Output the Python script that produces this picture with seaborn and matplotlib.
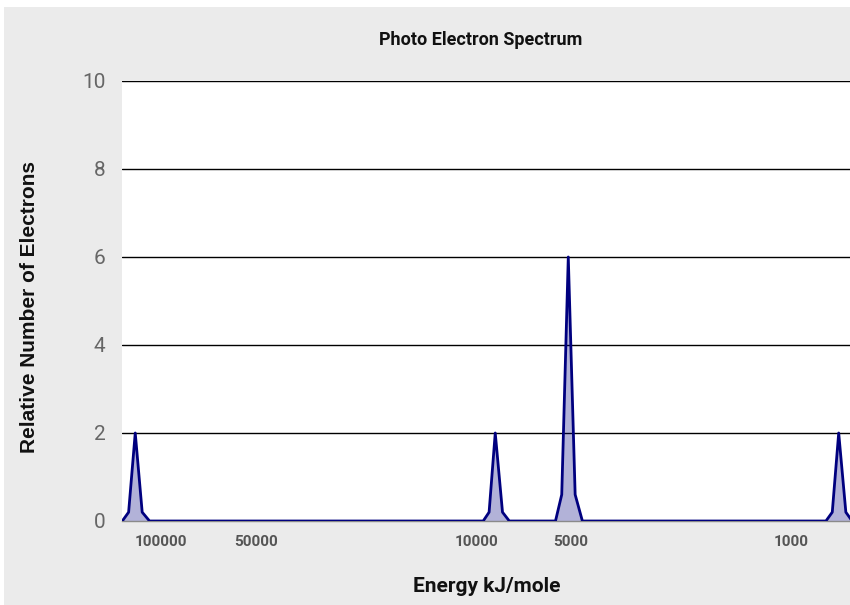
import matplotlib
matplotlib.use("Agg")
import matplotlib.pyplot as plt
import matplotlib.ticker as mticker
from matplotlib.patches import Rectangle
import seaborn as sns
import pandas as pd

# Data
energy = [133000, 127000, 121000, 115000, 109000,
          9500, 9100, 8700, 8250, 7850,
          5600, 5350, 5100, 4850, 4600,
          775, 740, 706, 670, 640]
electrons = [0, 0.2, 2, 0.2, 0,
             0, 0.2, 2, 0.2, 0,
             0, 0.6, 6, 0.6, 0,
             0, 0.2, 2, 0.2, 0]
x_ticks = [100000, 50000, 10000, 5000, 1000]
x_tick_labels = ["100000", "50000", "10000", "5000", "1000"]
y_ticks = [0, 2, 4, 6, 8, 10]

title = "Photo Electron Spectrum"
x_label = "Energy kJ/mole"
y_label = "Relative Number of Electrons"

df = pd.DataFrame({"energy": energy, "electrons": electrons})

sns.set_theme(style="white")
plt.rcParams["font.family"] = ["Roboto", "DejaVu Sans"]

fig = plt.figure(figsize=(8.5, 6.05), dpi=100)
fig.patch.set_facecolor("white")
fig.patches.append(Rectangle((4 / 850, 0), 1, 1 - 7 / 605, transform=fig.transFigure,
                             facecolor="#ebebeb", edgecolor="none", zorder=-10))

ax = fig.add_axes([122 / 850, 84 / 605, 728 / 850, 440 / 605])
ax.set_facecolor("white")

line_color = "#00007f"
ax.fill_between(df["energy"], df["electrons"], 0, color=line_color, alpha=0.3,
                linewidth=0, zorder=2)
sns.lineplot(data=df, x="energy", y="electrons", ax=ax, color=line_color,
             linewidth=2.0, zorder=3, sort=False)

ax.set_xscale("log")
ax.set_xlim(133300, 650)
ax.set_ylim(0, 10)

ax.xaxis.set_major_locator(mticker.FixedLocator(x_ticks))
ax.xaxis.set_major_formatter(mticker.FixedFormatter(x_tick_labels))
ax.xaxis.set_minor_locator(mticker.NullLocator())
ax.set_yticks(y_ticks)
ax.set_yticklabels([str(v) for v in y_ticks])

for v in y_ticks[1:]:
    ax.axhline(v, color="black", linewidth=1.0, zorder=1)

for side in ["top", "right", "left"]:
    ax.spines[side].set_visible(False)
ax.spines["bottom"].set_color("#8a8a8a")
ax.spines["bottom"].set_linewidth(1.0)

ax.tick_params(axis="x", length=0, pad=10, labelsize=11, labelcolor="#555555")
ax.tick_params(axis="y", length=0, pad=12, labelsize=15, labelcolor="#666666")
for lbl in ax.get_xticklabels():
    lbl.set_fontweight("bold")

ax.set_xlabel("")
ax.set_ylabel("")
fig.text(487 / 850, 1 - 587 / 605, x_label, ha="center", va="center",
         fontsize=15, fontweight="bold", color="#111111")
fig.text(30 / 850, 1 - 307 / 605, y_label, ha="center", va="center", rotation=90,
         fontsize=15, fontweight="bold", color="#111111",
         family=["Liberation Sans", "DejaVu Sans"])
fig.text(481 / 850, 1 - 40 / 605, title, ha="center", va="center",
         fontsize=13, fontweight="bold", color="#111111")

fig.savefig("out.png", dpi=100, facecolor=fig.get_facecolor())
